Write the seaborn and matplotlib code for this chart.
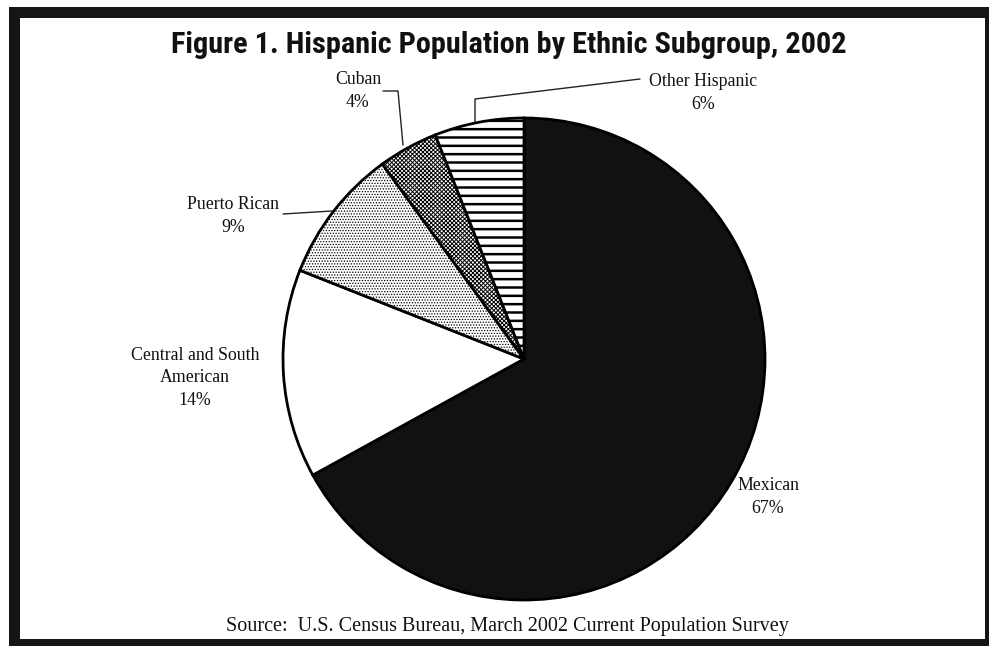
import matplotlib
matplotlib.use("Agg")
import matplotlib.pyplot as plt
import seaborn as sns
from matplotlib.patches import Rectangle
from matplotlib.lines import Line2D
from matplotlib import font_manager

# ---- data ----
categories = ["Mexican", "Central and South\nAmerican", "Puerto Rican", "Cuban", "Other Hispanic"]
shares = [67, 14, 9, 4, 6]
pct_labels = ["67%", "14%", "9%", "4%", "6%"]
title = "Figure 1. Hispanic Population by Ethnic Subgroup, 2002"
source = "Source:  U.S. Census Bureau, March 2002 Current Population Survey"

# ---- style ----
sns.set_theme(style="white")
plt.rcParams['font.family'] = ['Liberation Serif', 'DejaVu Serif']
plt.rcParams['hatch.color'] = 'black'
plt.rcParams['hatch.linewidth'] = 1.0

installed = {f.name for f in font_manager.fontManager.ttflist}
title_family = [f for f in ['Roboto Condensed', 'Liberation Sans Narrow', 'Open Sans Condensed',
                            'Roboto', 'Liberation Sans'] if f in installed] + ['DejaVu Sans']

W, H = 989, 646
fig = plt.figure(figsize=(W / 100, H / 100), dpi=100)
fig.patch.set_facecolor('white')

def fx(px):
    return px / W

def fy(py):
    return 1 - py / H

# pie axes
cx, cy, R = 524, 359, 241
ax = fig.add_axes([(cx - R) / W, (H - cy - R) / H, 2 * R / W, 2 * R / H])
fills = ['#111111', 'white', 'white', 'white', 'white']
hatches = [None, None, '......', 'xxxxxxxx', '--']
wedges, _ = ax.pie(shares, startangle=90, counterclock=False, colors=fills,
                   wedgeprops=dict(edgecolor='black', linewidth=2))
for w, h in zip(wedges, hatches):
    w.set_clip_on(False)
    if h:
        w.set_hatch(h)
try:
    wedges[4].set_hatch_linewidth(1.8)
    wedges[2].set_hatch_linewidth(0.6)
    wedges[3].set_hatch_linewidth(0.7)
except Exception:
    pass
ax.set_xlim(-1, 1)
ax.set_ylim(-1, 1)
ax.set_aspect('equal')
ax.axis('off')

# ---- labels ----
label_pos = {
    0: (768, 497),
    1: (195, 378),
    2: (233, 216),
    3: (358, 91),
    4: (703, 93),
}
for i, (x, y) in label_pos.items():
    fig.text(fx(x), fy(y), categories[i] + "\n" + pct_labels[i], ha='center', va='center',
             fontsize=12.8, linespacing=1.45, color='#111111')

leaders = [
    [(383, 91), (398, 91), (403, 145)],
    [(640, 79), (475, 99), (475, 122)],
    [(283, 214), (332, 211)],
]
for pts in leaders:
    xs = [fx(p[0]) for p in pts]
    ys = [fy(p[1]) for p in pts]
    fig.add_artist(Line2D(xs, ys, color='#222222', lw=1.0, transform=fig.transFigure))

# ---- title & source (fit to reference widths) ----
renderer = fig.canvas.get_renderer()
t_title = fig.text(fx(509), fy(45), title, ha='center', va='center', fontsize=20, weight='bold',
                   family=title_family, color='#111111')
t_src = fig.text(fx(507), fy(626), source, ha='center', va='center', fontsize=13, color='#111111')
for t, target in [(t_title, 674), (t_src, 560)]:
    bw = t.get_window_extent(renderer).width
    t.set_fontsize(t.get_fontsize() * target / bw)

# ---- frame ----
frame = [
    (9, 7, 978, 11),    # top
    (9, 7, 11, 639),    # left
    (9, 639, 980, 7),   # bottom
    (985, 7, 4, 639),   # right
]
for x, y, w, h in frame:
    fig.add_artist(Rectangle((fx(x), fy(y + h)), w / W, h / H, transform=fig.transFigure,
                             facecolor='#151515', edgecolor='none'))

fig.savefig("out.png", dpi=100)
